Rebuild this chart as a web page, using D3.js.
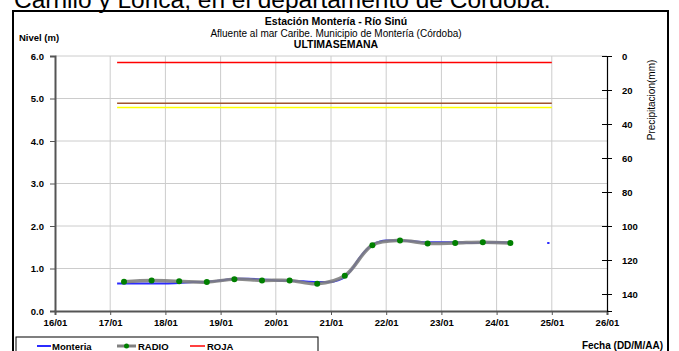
<!DOCTYPE html>
<html>
<head>
<meta charset="utf-8">
<script src="https://cdn.jsdelivr.net/npm/d3@7"></script>
<style>
  html, body { margin: 0; padding: 0; background: #fff; }
  svg { display: block; font-family: "Liberation Sans", Arial, sans-serif; }
</style>
</head>
<body>
<svg id="chart" width="679" height="351"></svg>
<script>
// Day ticks on the date axis (DD/MM), 2019 assumed for the calendar
const dayTicks = ["16/01","17/01","18/01","19/01","20/01","21/01","22/01","23/01","24/01","25/01","26/01"];
const levelTicks = [0, 1, 2, 3, 4, 5, 6];
const rainTicks = [0, 20, 40, 60, 80, 100, 120, 140];

// Monteria gauge (hourly readings, sampled) — date "DD/MM HH", level in m
const monteriaTime = ["17/01 03","17/01 12","18/01 00","18/01 06","18/01 12","18/01 18","19/01 00","19/01 06",
  "19/01 12","19/01 18","20/01 00","20/01 06","20/01 12","20/01 18","21/01 00","21/01 03","21/01 06",
  "21/01 09","21/01 12","21/01 15","21/01 18","21/01 21","22/01 00","22/01 06","22/01 12","22/01 18",
  "23/01 00","23/01 06","23/01 12","23/01 18","24/01 00","24/01 06"];
const monteriaLevel = [0.65,0.65,0.65,0.66,0.68,0.69,0.72,0.76,0.76,0.74,0.72,0.71,0.70,0.68,0.68,0.72,0.80,
  0.98,1.22,1.42,1.56,1.63,1.66,1.66,1.64,1.62,1.62,1.62,1.60,1.61,1.62,1.61];
// Short later stretch of the same gauge
const monteriaLateTime = ["24/01 22","24/01 23"];
const monteriaLateLevel = [1.60, 1.60];

// RADIO readings (twice a day)
const radioTime = ["17/01 06","17/01 18","18/01 06","18/01 18","19/01 06","19/01 18","20/01 06","20/01 18",
  "21/01 06","21/01 18","22/01 06","22/01 18","23/01 06","23/01 18","24/01 06"];
const radioLevel = [0.69,0.72,0.70,0.68,0.75,0.72,0.72,0.64,0.83,1.55,1.66,1.59,1.60,1.62,1.60];

// Alert thresholds (m) drawn over the week
const alertStart = "17/01 03", alertEnd = "25/01 00";
const alertNames = ["ROJA", "NARANJA", "AMARILLA"];
const alertLevels = [5.85, 4.89, 4.79];
const alertColors = ["#ff0000", "#a0522d", "#ffff00"];

const parse = s => d3.utcParse("%d/%m/%Y %H")(s.slice(0,5) + "/2019 " + (s.slice(6) || "00"));
const dayDates = dayTicks.map(d => parse(d + " 00"));

const svg = d3.select("#chart");
const m = { left: 55, right: 607, top: 56, bottom: 311 };

const x = d3.scaleUtc().domain([dayDates[0], dayDates[dayDates.length - 1]]).range([m.left, m.right]);
const y = d3.scaleLinear().domain([0, 6]).range([m.bottom, m.top]);
const yRain = d3.scaleLinear().domain([0, 150]).range([m.top, m.bottom]);

// Page heading sitting above the frame (clipped by the top edge)
svg.append("text").attr("x", 14).attr("y", 8).attr("font-size", 24.5).attr("fill", "#000")
  .text("Carrillo y Lorica, en el departamento de Córdoba.");

// Chart frame
svg.append("rect").attr("x", 13).attr("y", 11).attr("width", 655).attr("height", 360)
  .attr("fill", "none").attr("stroke", "#000").attr("stroke-width", 2);

// Titles
const titles = [
  { t: "Estación Montería  - Río Sinú", y: 25, w: "bold", s: 10.5 },
  { t: "Afluente al mar Caribe. Municipio de Montería (Córdoba)", y: 37, w: "normal", s: 10 },
  { t: "ULTIMASEMANA", y: 48, w: "bold", s: 10.5 }
];
titles.forEach(d => svg.append("text").attr("x", 336).attr("y", d.y).attr("text-anchor", "middle")
  .attr("font-size", d.s).attr("font-weight", d.w).text(d.t));
svg.append("text").attr("x", 19).attr("y", 41).attr("font-size", 9.5).attr("font-weight", "bold").text("Nivel (m)");

// Grid
const grid = svg.append("g").attr("stroke", "#cccccc").attr("stroke-width", 1);
dayDates.slice(1, -1).forEach(d => grid.append("line").attr("x1", x(d)).attr("x2", x(d))
  .attr("y1", m.top).attr("y2", m.bottom));
levelTicks.slice(1).forEach(v => grid.append("line").attr("x1", m.left).attr("x2", m.right)
  .attr("y1", y(v)).attr("y2", y(v)));

// Left axis
const yAxis = svg.append("g").attr("transform", `translate(${m.left},0)`)
  .call(d3.axisLeft(y).tickValues(levelTicks).tickFormat(d3.format(".1f")).tickSize(5).tickPadding(6));
yAxis.select(".domain").attr("stroke", "#555").attr("stroke-width", 2);
yAxis.selectAll(".tick line").attr("stroke", "#555");
yAxis.selectAll("text").attr("font-size", 9.5).attr("font-weight", "bold").attr("font-family", "Liberation Sans, Arial");

// Bottom axis
const xAxis = svg.append("g").attr("transform", `translate(0,${m.bottom})`)
  .call(d3.axisBottom(x).tickValues(dayDates).tickFormat(d3.utcFormat("%d/%m")).tickSize(4).tickPadding(4));
xAxis.select(".domain").attr("stroke", "#555").attr("stroke-width", 2);
xAxis.selectAll(".tick line").attr("stroke", "#555");
xAxis.selectAll("text").attr("font-size", 9.5).attr("font-weight", "bold").attr("font-family", "Liberation Sans, Arial");

// Right axis (precipitation, inverted)
const rAxis = svg.append("g").attr("transform", `translate(${m.right},0)`)
  .call(d3.axisRight(yRain).tickValues(rainTicks).tickSize(5).tickPadding(10));
rAxis.select(".domain").attr("stroke", "#000").attr("stroke-width", 1.2);
rAxis.selectAll(".tick line").attr("x1", -5).attr("x2", 5).attr("stroke", "#000");
rAxis.selectAll("text").attr("font-size", 9.5).attr("font-weight", "bold").attr("font-family", "Liberation Sans, Arial");
svg.append("text").attr("transform", "translate(655,100) rotate(-90)").attr("text-anchor", "middle")
  .attr("font-size", 10).text("Precipitacion(mm)");

// Alert threshold lines
alertLevels.forEach((v, i) => svg.append("line")
  .attr("x1", x(parse(alertStart))).attr("x2", x(parse(alertEnd)))
  .attr("y1", y(v)).attr("y2", y(v)).attr("stroke", alertColors[i]).attr("stroke-width", 1.5));

// Monteria series
const line = d3.line().x(d => x(d[0])).y(d => y(d[1])).curve(d3.curveMonotoneX);
const mData = monteriaTime.map((t, i) => [parse(t), monteriaLevel[i]]);
svg.append("path").datum(mData).attr("d", line).attr("fill", "none").attr("stroke", "#2b2bff").attr("stroke-width", 2);
const mLate = monteriaLateTime.map((t, i) => [parse(t), monteriaLateLevel[i]]);
svg.append("path").datum(mLate).attr("d", line).attr("fill", "none").attr("stroke", "#2b2bff").attr("stroke-width", 2);

// RADIO series
const rData = radioTime.map((t, i) => [parse(t), radioLevel[i]]);
const smooth = d3.line().x(d => x(d[0])).y(d => y(d[1])).curve(d3.curveCatmullRom.alpha(0.5));
svg.append("path").datum(rData).attr("d", smooth).attr("fill", "none").attr("stroke", "#808080")
  .attr("stroke-width", 3.5).attr("stroke-opacity", 0.9);
svg.selectAll("circle.radio").data(rData).enter().append("circle").attr("class", "radio")
  .attr("cx", d => x(d[0])).attr("cy", d => y(d[1])).attr("r", 3).attr("fill", "#008000");

// Legend
svg.append("rect").attr("x", 16).attr("y", 337).attr("width", 302).attr("height", 30)
  .attr("fill", "none").attr("stroke", "#000").attr("stroke-width", 1);
const lg = svg.append("g").attr("font-size", 9.5).attr("font-weight", "bold");
lg.append("line").attr("x1", 37).attr("x2", 51).attr("y1", 346).attr("y2", 346).attr("stroke", "#2b2bff").attr("stroke-width", 2);
lg.append("text").attr("x", 52).attr("y", 350).text("Monteria");
lg.append("line").attr("x1", 117).attr("x2", 136).attr("y1", 346).attr("y2", 346).attr("stroke", "#808080").attr("stroke-width", 3);
lg.append("circle").attr("cx", 126.5).attr("cy", 346).attr("r", 2.5).attr("fill", "#008000");
lg.append("text").attr("x", 138).attr("y", 350).text("RADIO");
lg.append("line").attr("x1", 190).attr("x2", 205).attr("y1", 346).attr("y2", 346).attr("stroke", alertColors[0]).attr("stroke-width", 1.5);
lg.append("text").attr("x", 207).attr("y", 350).text(alertNames[0]);

svg.append("text").attr("x", 663).attr("y", 349).attr("text-anchor", "end").attr("font-size", 10)
  .attr("font-weight", "bold").text("Fecha (DD/M/AA)");
</script>
</body>
</html>
